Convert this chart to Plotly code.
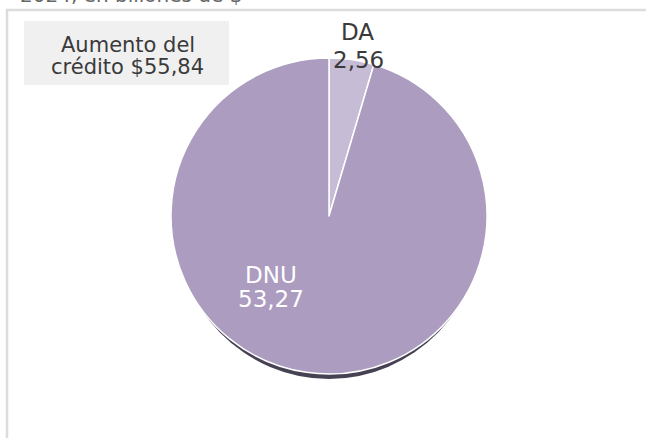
import plotly.graph_objects as go

W, H = 646, 438
OFF = 0  # page body margin removed via post_script

# Data
categories = ["DA", "DNU"]
values = [2.56, 53.27]
total_lines = ["Aumento del", "crédito $55,84"]
subtitle = "2024, en billones de $"
colors = ["#c6bcd6", "#ab9cc0"]

def fmt(v):
    return f"{v:.2f}".replace(".", ",")

def px(x):
    return (x - OFF) / W

def py(y):
    return 1 - (y - OFF) / H

FONT = "DejaVu Sans"

cx, cy, r = 329, 216, 158

fig = go.Figure()
fig.add_trace(go.Pie(
    labels=categories,
    values=values,
    sort=False,
    direction="clockwise",
    rotation=0,
    marker=dict(colors=colors, line=dict(color="white", width=1.5)),
    textinfo="none",
    hoverinfo="label+value",
    domain=dict(x=[px(cx - r), px(cx + r)], y=[py(cy + r), py(cy - r)]),
    showlegend=False,
))

shapes = [
    # shadow beneath pie
    dict(type="circle", xref="paper", yref="paper", layer="below",
         x0=px(cx - r + 4), x1=px(cx + r - 4), y0=py(cy + r + 5), y1=py(cy - r + 5),
         fillcolor="#474154", line=dict(width=0)),
    # frame
    dict(type="line", xref="paper", yref="paper", x0=px(6), x1=1.05, y0=py(10), y1=py(10),
         line=dict(color="#dcdcdc", width=2.5)),
    dict(type="line", xref="paper", yref="paper", x0=px(7), x1=px(7), y0=py(9), y1=-0.05,
         line=dict(color="#dcdcdc", width=2.5)),
    # total box
    dict(type="rect", xref="paper", yref="paper", x0=px(24), x1=px(229), y0=py(85), y1=py(21),
         fillcolor="#f0f0f0", line=dict(width=0), layer="below"),
]

def ann(text, x, y, size, color, xanchor="center", yanchor="middle"):
    return dict(text=text, x=px(x), y=py(y), xref="paper", yref="paper",
                xanchor=xanchor, yanchor=yanchor, showarrow=False,
                font=dict(family=FONT, size=size, color=color))

annotations = [
    ann(subtitle, 18, 9, 20, "#666", xanchor="left", yanchor="bottom"),
    ann(total_lines[0], 128, 45, 21, "#3a3a3a"),
    ann(total_lines[1], 127, 67, 21, "#3a3a3a"),
    ann(categories[0], 357.5, 32, 23, "#3a3a3a"),
    ann(fmt(values[0]), 358, 59.5, 23, "#3a3a3a"),
    ann(categories[1], 271, 274.5, 23, "white"),
    ann(fmt(values[1]), 271, 298.5, 23, "white"),
]

fig.update_layout(
    width=W, height=H,
    margin=dict(l=0, r=0, t=0, b=0),
    paper_bgcolor="white", plot_bgcolor="white",
    shapes=shapes, annotations=annotations,
)

fig.write_html("out.html", config={"displayModeBar": False},
               post_script="document.body.style.margin='0';")
